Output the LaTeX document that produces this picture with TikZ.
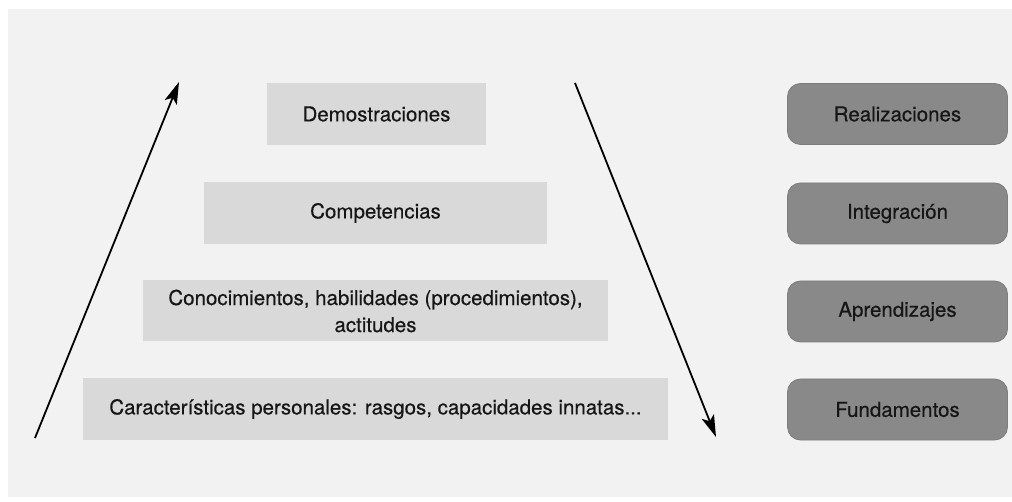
\documentclass[tikz,border=0pt]{standalone}
\usepackage{fontspec}
\newfontfamily\diagfont[FakeBold=0.4]{TeX Gyre Heros}
\usetikzlibrary{arrows.meta}
\definecolor{panel}{HTML}{F2F2F2}
\definecolor{lightbox}{HTML}{D9D9D9}
\definecolor{darkbox}{HTML}{898989}
\definecolor{darkedge}{HTML}{7C7C7C}
\definecolor{txt}{HTML}{161616}
\tikzset{
  lbox/.style={rectangle, fill=lightbox, draw=none, text=txt, align=center,
    inner sep=0pt, font=\diagfont\fontsize{20.5}{27}\selectfont},
  rbox/.style={rectangle, rounded corners=13pt, fill=darkbox, draw=darkedge, line width=0.8pt,
    text=txt, align=center, inner sep=0pt, minimum width=220pt, minimum height=61pt,
    font=\diagfont\fontsize{20.5}{27}\selectfont},
  arr/.style={line width=1.8pt, black, -{Stealth[length=22pt,width=13pt,inset=5pt]}}
}
\begin{document}
\begin{tikzpicture}[x=1pt,y=-1pt]
\useasboundingbox (0,0) rectangle (1012,502);
\fill[white] (0,0) rectangle (1012,502);
\fill[panel] (8,9) rectangle (1012,497);
% left stack
\node[lbox, minimum width=219pt, minimum height=62pt] (dem) at (376.5,114) {Demostraciones};
\node[lbox, minimum width=343pt, minimum height=62pt] (comp) at (375.5,213) {Competencias};
\node[lbox, minimum width=465pt, minimum height=61pt] (con) at (375.5,311) {Conocimientos, habilidades (procedimientos),\\actitudes};
\node[lbox, minimum width=585pt, minimum height=62pt] (car) at (375.5,409) {Características personales: rasgos, capacidades innatas...};
% right column
\node[rbox] (rea) at (897.5,114) {Realizaciones};
\node[rbox] (int) at (897.5,213.5) {Integración};
\node[rbox] (apr) at (897.5,311.5) {Aprendizajes};
\node[rbox] (fun) at (897.5,409.5) {Fundamentos};
% arrows
\coordinate (upS) at (35,438);
\coordinate (upE) at (179,82);
\coordinate (dnS) at (575,83);
\coordinate (dnE) at (716,437);
\draw[arr] (upS) -- (upE);
\draw[arr] (dnS) -- (dnE);
\end{tikzpicture}
\end{document}
